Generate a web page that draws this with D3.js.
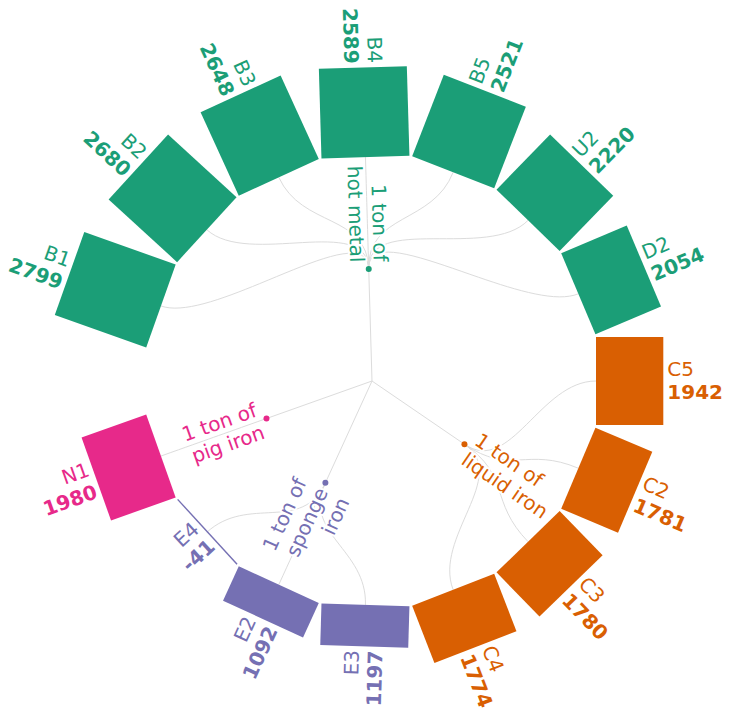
<!DOCTYPE html>
<html>
<head>
<meta charset="utf-8">
<script src="https://cdn.jsdelivr.net/npm/d3@7"></script>
<style>
  body { margin: 0; background: #fff; }
  svg { display: block; font-family: "DejaVu Sans", Verdana, sans-serif; }
</style>
</head>
<body>
<svg></svg>
<script>
// data
const groupKeys = ['hot metal', 'liquid iron', 'sponge iron', 'pig iron'];
const groupLines = [
  ['1 ton of', 'hot metal'],
  ['1 ton of', 'liquid iron'],
  ['1 ton of', 'sponge', 'iron'],
  ['1 ton of', 'pig iron']
];
const leafNames = ['B1', 'B2', 'B3', 'B4', 'B5', 'U2', 'D2', 'C5', 'C2', 'C3', 'C4', 'E3', 'E2', 'E4', 'N1'];
const leafValues = [2799, 2680, 2648, 2589, 2521, 2220, 2054, 1942, 1781, 1780, 1774, 1197, 1092, -41, 1980];
const leafGroup = [0, 0, 0, 0, 0, 0, 0, 1, 1, 1, 1, 2, 2, 2, 3];

const width = 732
const height = 717
const cx = 372, cy = 381
const innerR = 224
const step = 0.4 * 180 / Math.PI   // degrees between leaves
const boxW = 88
const lineH = 23.5

const color = d3.scaleOrdinal().domain(groupKeys).range(d3.schemeDark2)

// build the tree: root -> groups -> leaves
const treeData = {
  name: 'root',
  children: groupKeys.map((g, gi) => ({
    name: g,
    lines: groupLines[gi],
    children: leafNames
      .map((n, i) => ({ name: n, value: leafValues[i], group: leafGroup[i] }))
      .filter(l => l.group === gi)
      .map(l => ({ name: l.name, val: l.value, group: g }))
  }))
}

const root = d3.hierarchy(treeData)
d3.cluster()
  .size([leafNames.length * step, innerR])
  .separation(() => 1)(root)

// put C5 (middle leaf) on the horizontal
const offset = 90 - 7.5 * step
const ang = d => ((d.x + offset) % 360 + 360) % 360

const lenScale = d3.scaleLinear()
  .domain([0, d3.max(leafValues)])
  .range([0, 97])

const svg = d3.select('svg')
  .attr('width', width)
  .attr('height', height)

const chart = svg.append('g')
  .attr('transform', `translate(${cx}, ${cy})`)

const groupsNodes = root.children
const leaves = root.leaves()

// root -> group straight lines
chart.selectAll('.rootlink')
  .data(groupsNodes)
  .enter()
  .append('line')
  .attr('x1', 0)
  .attr('y1', 0)
  .attr('x2', d => d3.pointRadial(ang(d) * Math.PI / 180, d.y)[0])
  .attr('y2', d => d3.pointRadial(ang(d) * Math.PI / 180, d.y)[1])
  .attr('stroke', '#dcdcdc')
  .attr('stroke-width', 1)

// group -> leaf curves
const link = d3.linkRadial()
  .angle(d => ang(d) * Math.PI / 180)
  .radius(d => d.y)

chart.selectAll('.leaflink')
  .data(root.links().filter(l => l.source.depth === 1))
  .enter()
  .append('path')
  .attr('d', link)
  .attr('fill', 'none')
  .attr('stroke', '#dcdcdc')
  .attr('stroke-width', 1)

// leaf boxes
const leafG = chart.selectAll('.leaf')
  .data(leaves)
  .enter()
  .append('g')
  .attr('transform', d => `rotate(${ang(d) - 90}) translate(${d.y}, 0)`)

leafG.append('rect')
  .attr('x', d => Math.min(0, lenScale(d.data.val)))
  .attr('y', -boxW / 2)
  .attr('width', d => Math.abs(lenScale(d.data.val)))
  .attr('height', boxW)
  .attr('fill', d => color(d.data.group))

// leaf labels
const leafText = chart.selectAll('.leaflabel')
  .data(leaves)
  .enter()
  .append('text')
  .attr('transform', d => {
    const a = ang(d)
    const r = d.y + Math.max(0, lenScale(d.data.val)) + 4
    return `rotate(${a - 90}) translate(${r}, 0)` + (a >= 180 ? ' rotate(180)' : '')
  })
  .attr('text-anchor', d => ang(d) >= 180 ? 'end' : 'start')
  .attr('fill', d => color(d.data.group))
  .style('font-size', '20px')

leafText.append('tspan')
  .attr('x', 0)
  .attr('y', -lineH / 2 + 6.5)
  .text(d => d.data.name)

leafText.append('tspan')
  .attr('x', 0)
  .attr('y', lineH / 2 + 6.5)
  .attr('font-weight', 'bold')
  .text(d => d.data.val)

// group nodes
chart.selectAll('.node')
  .data(groupsNodes)
  .enter()
  .append('circle')
  .attr('cx', d => d3.pointRadial(ang(d) * Math.PI / 180, d.y)[0])
  .attr('cy', d => d3.pointRadial(ang(d) * Math.PI / 180, d.y)[1])
  .attr('r', 3)
  .attr('fill', d => color(d.data.name))

// group labels
const groupText = chart.selectAll('.grouplabel')
  .data(groupsNodes)
  .enter()
  .append('text')
  .attr('transform', d => {
    const a = ang(d)
    return `rotate(${a - 90}) translate(${d.y + 7}, 0)` + (a >= 180 ? ' rotate(180)' : '')
  })
  .attr('text-anchor', d => ang(d) >= 180 ? 'end' : 'start')
  .attr('fill', d => color(d.data.name))
  .attr('stroke', '#fff')
  .attr('stroke-width', 4)
  .attr('stroke-linejoin', 'round')
  .attr('paint-order', 'stroke')
  .style('font-size', '20px')

groupText.each(function(d) {
  const n = d.data.lines.length
  d3.select(this).selectAll('tspan')
    .data(d.data.lines)
    .enter()
    .append('tspan')
    .attr('x', 0)
    .attr('y', (s, i) => (i - (n - 1) / 2) * lineH + 6.5)
    .text(s => s)
})
</script>
</body>
</html>
